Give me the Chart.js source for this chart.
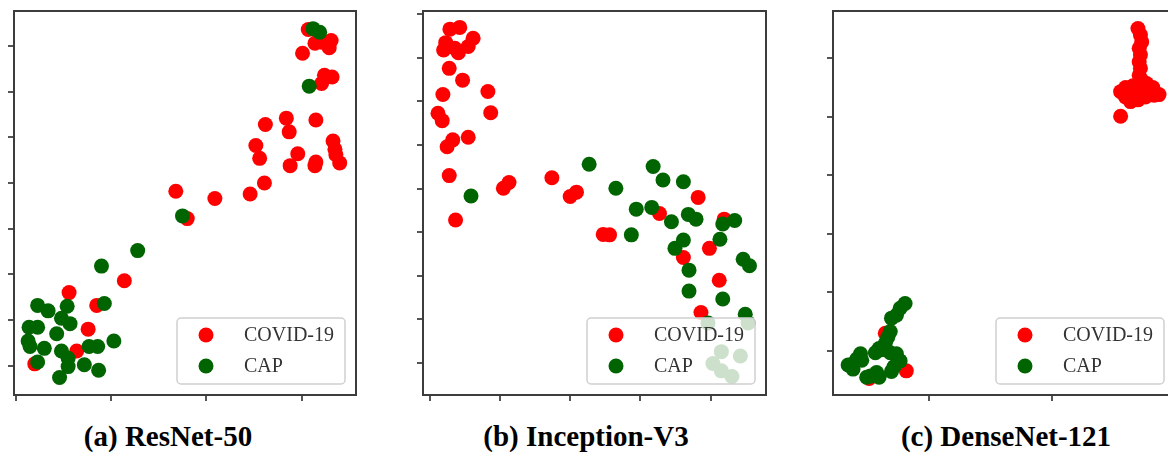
<!DOCTYPE html>
<html>
<head>
<meta charset="utf-8">
<script src="https://cdn.jsdelivr.net/npm/chart.js@4.4.1/dist/chart.umd.min.js"></script>
<style>
    html, body { margin: 0; padding: 0; background: #fff; overflow: hidden; width: 1168px; height: 452px; }
    .panel { position: absolute; top: 0; height: 405px; }
    .caption { position: absolute; top: 422px; width: 220px; font: bold 29px "Liberation Serif", "Times New Roman", serif; line-height: 29px; text-align: center; white-space: nowrap; color: #000; }
</style>
</head>
<body>
<div class="panel" style="left:0px;width:370px"><canvas id="resnet_scatter"></canvas></div>
<div class="panel" style="left:400px;width:380px"><canvas id="inception_scatter"></canvas></div>
<div class="panel" style="left:810px;width:380px"><canvas id="densenet_scatter"></canvas></div>
<div class="caption" style="left:58px">(a) ResNet-50</div>
<div class="caption" style="left:476px">(b) Inception-V3</div>
<div class="caption" style="left:896px">(c) DenseNet-121</div>
<script>
// t-SNE embeddings, [x, y]
const resnetCovid = [
    [10.7, 21.8], [11.4, 20.3], [10.1, 19.2], [13.1, 20.6], [12.9, 19.8], [12.2, 20.4],
    [12.4, 16.8], [13.2, 16.6], [12.1, 15.9],
    [6.2, 11.4], [8.4, 12.1], [8.7, 10.6], [11.5, 11.9], [5.2, 9.1], [5.6, 7.7], [9.6, 8.2],
    [8.8, 6.9], [11.4, 6.9], [11.5, 7.3], [13.3, 9.6], [13.5, 8.7], [13.6, 8.1], [14.0, 7.2],
    [6.1, 5.0], [4.6, 3.8], [0.9, 3.3], [-3.2, 4.1], [-2.0, 1.1],
    [-8.6, -5.7], [-14.4, -7.0], [-11.5, -8.4], [-12.4, -11.0], [-13.6, -13.4], [-18.0, -14.8]
];
const resnetCap = [
    [11.2, 21.9], [11.9, 21.5], [10.8, 15.6], [-2.5, 1.4], [-7.2, -2.4], [-11.0, -4.1], [-10.7, -8.2],
    [-17.7, -8.4], [-16.6, -9.0], [-14.6, -8.5], [-15.2, -9.8], [-14.3, -10.4], [-18.6, -10.8],
    [-17.7, -10.8], [-15.7, -11.5], [-18.7, -12.3], [-18.5, -12.9], [-17.0, -13.1], [-15.2, -13.4],
    [-14.5, -14.2], [-12.3, -12.9], [-11.4, -12.9], [-9.7, -12.3], [-17.7, -14.6], [-14.5, -15.1],
    [-12.8, -14.9], [-11.3, -15.5], [-15.4, -16.3]
];
const inceptionCovid = [
    [-17.1, 36.6], [-15.7, 37.0], [-17.7, 33.5], [-18.0, 31.8], [-16.4, 32.2], [-15.9, 31.2],
    [-14.5, 32.6], [-13.8, 34.5], [-17.2, 27.6], [-15.3, 24.9], [-18.1, 21.6], [-18.8, 17.3],
    [-18.2, 15.6], [-11.7, 22.3], [-11.3, 17.4], [-16.7, 11.2], [-17.5, 9.6], [-14.5, 11.8],
    [-17.2, 3.0], [-16.3, -7.2], [-9.5, 0.1], [-8.7, 1.4], [-2.6, 2.5], [0.0, -1.8], [0.9, -0.8],
    [4.7, -10.5], [5.6, -10.6], [12.7, -5.7], [18.2, -2.0], [16.1, -15.8], [19.8, -13.7],
    [21.2, -21.0], [18.6, -28.4], [21.9, -7.0]
];
const inceptionCap = [
    [2.7, 5.6], [11.8, 5.1], [13.2, 2.0], [16.1, 1.6], [6.5, 0.1], [-14.1, -1.7], [9.4, -4.7],
    [11.6, -4.3], [16.8, -5.9], [17.9, -7.0], [14.4, -7.6], [21.7, -8.1], [23.4, -7.3], [8.7, -10.6],
    [16.1, -11.8], [21.3, -11.6], [14.9, -13.7], [16.9, -18.7], [16.9, -23.5], [24.6, -16.2],
    [25.5, -17.7], [21.7, -25.3], [24.9, -28.8],
    [19.6, -30.8], [25.3, -30.8], [21.5, -37.4], [24.2, -38.4], [20.3, -40.1], [21.5, -41.8], [23.0, -43.1]
];
const densenetCovid = [
    [16.9, 25.1], [17.1, 24.0], [17.2, 22.8], [17.0, 21.7], [17.1, 20.6], [17.0, 19.4], [17.1, 18.3],
    [17.0, 17.1], [17.2, 16.3], [15.5, 14.3], [15.9, 15.0], [16.5, 15.3], [17.6, 15.7], [18.1, 15.0],
    [18.6, 13.8], [18.2, 13.7], [17.5, 13.4], [16.9, 12.9], [16.3, 12.6], [15.9, 13.4], [16.8, 14.0],
    [17.3, 14.9], [15.5, 10.1],
    [-1.8, -33.4], [-4.8, -34.7], [-3.5, -27.0]
];
const densenetCap = [
    [-1.9, -21.9], [-2.3, -22.7], [-2.6, -23.9], [-3.0, -24.4], [-3.1, -26.7], [-3.3, -27.7],
    [-3.5, -28.7], [-4.0, -29.6], [-4.3, -30.3], [-3.1, -30.3], [-2.6, -30.5], [-2.3, -31.7],
    [-2.8, -32.7], [-3.0, -33.5], [-5.5, -30.5], [-5.8, -31.4], [-6.1, -32.2], [-6.5, -32.4],
    [-6.1, -33.1], [-4.7, -34.3], [-5.0, -34.5], [-4.2, -33.7], [-4.0, -34.5], [-5.4, -31.6], [-3.8, -29.8]
];

// tick positions (labels are hidden in the figure)
const resnetXTicks = [-20, -10, 0, 10];
const resnetYTicks = [-15, -10, -5, 0, 5, 10, 15, 20];
const inceptionXTicks = [-20, -10, 0, 10, 20];
const inceptionYTicks = [-40, -30, -20, -10, 0, 10, 20, 30, 40];
const densenetXTicks = [0, 10];
const densenetYTicks = [-30, -20, -10, 0, 10, 20];

const seriesLabels = ['COVID-19', 'CAP'];
const seriesColors = ['#ff0000', '#006400'];

const frameBox = {
    id: 'frameBox',
    afterDatasetsDraw(chart) {
        const {ctx, chartArea: a} = chart;
        ctx.save();
        ctx.strokeStyle = '#3c3c3c';
        ctx.lineWidth = 2;
        ctx.strokeRect(a.left, a.top, a.right - a.left, a.bottom - a.top);
        ctx.restore();
    }
};

// matplotlib-style legend in the lower right corner of the axes
const insideLegend = {
    id: 'insideLegend',
    afterDatasetsDraw(chart) {
        const {ctx, chartArea} = chart;
        const w = 168, h = 66;
        const left = chartArea.right - 11 - w;
        const top = chartArea.bottom - 11 - h;
        ctx.save();
        ctx.fillStyle = 'rgba(255, 255, 255, 0.8)';
        ctx.strokeStyle = '#d0d0d0';
        ctx.lineWidth = 1.5;
        ctx.beginPath();
        ctx.roundRect(left, top, w, h, 4);
        ctx.fill();
        ctx.stroke();
        ctx.font = '20px "Liberation Serif", "Times New Roman", serif';
        ctx.textBaseline = 'middle';
        [0, 1].forEach(i => {
            const ds = chart.data.datasets.find(d => d.label === seriesLabels[i]);
            const cy = top + 17 + i * 31;
            ctx.fillStyle = ds.backgroundColor;
            ctx.beginPath();
            ctx.arc(left + 29, cy, 7.5, 0, Math.PI * 2);
            ctx.fill();
            ctx.fillStyle = '#333333';
            ctx.fillText(ds.label, left + 67, cy + 1);
        });
        ctx.restore();
    }
};

function toPoints(arr) {
    return arr.map(p => ({x: p[0], y: p[1]}));
}

function axis(min, max, ticks) {
    return {
        type: 'linear',
        min: min,
        max: max,
        afterBuildTicks: (scale) => { scale.ticks = ticks.map(v => ({value: v})); },
        ticks: {display: false},
        grid: {drawOnChartArea: false, drawTicks: true, tickLength: 6, color: '#555555', lineWidth: 2},
        border: {display: false}
    };
}

function makeScatter(id, covid, cap, xr, yr, xTicks, yTicks, pad) {
    const ctx = document.getElementById(id).getContext('2d');
    return new Chart(ctx, {
        type: 'scatter',
        data: {
            datasets: [{
                label: seriesLabels[0],
                data: toPoints(covid),
                backgroundColor: seriesColors[0],
                pointRadius: 7.5,
                pointBorderWidth: 0,
                order: 1
            }, {
                label: seriesLabels[1],
                data: toPoints(cap),
                backgroundColor: seriesColors[1],
                pointRadius: 7.5,
                pointBorderWidth: 0,
                order: 0
            }]
        },
        options: {
            responsive: true,
            maintainAspectRatio: false,
            animation: false,
            layout: {padding: pad},
            plugins: {
                legend: {display: false},
                tooltip: {enabled: false},
                title: {display: false}
            },
            scales: {
                x: axis(xr[0], xr[1], xTicks),
                y: axis(yr[0], yr[1], yTicks)
            }
        },
        plugins: [frameBox, insideLegend]
    });
}

makeScatter('resnet_scatter', resnetCovid, resnetCap, [-20.18, 15.71], [-18.21, 23.83],
    resnetXTicks, resnetYTicks, {left: 8, top: 11, right: 14, bottom: 4});
makeScatter('inception_scatter', inceptionCovid, inceptionCap, [-20.93, 27.85], [-47.34, 40.76],
    inceptionXTicks, inceptionYTicks, {left: 17, top: 11, right: 14, bottom: 4});
makeScatter('densenet_scatter', densenetCovid, densenetCap, [-7.72, 19.89], [-37.53, 28.08],
    densenetXTicks, densenetYTicks, {left: 17, top: 11, right: 15, bottom: 4});
</script>
</body>
</html>
